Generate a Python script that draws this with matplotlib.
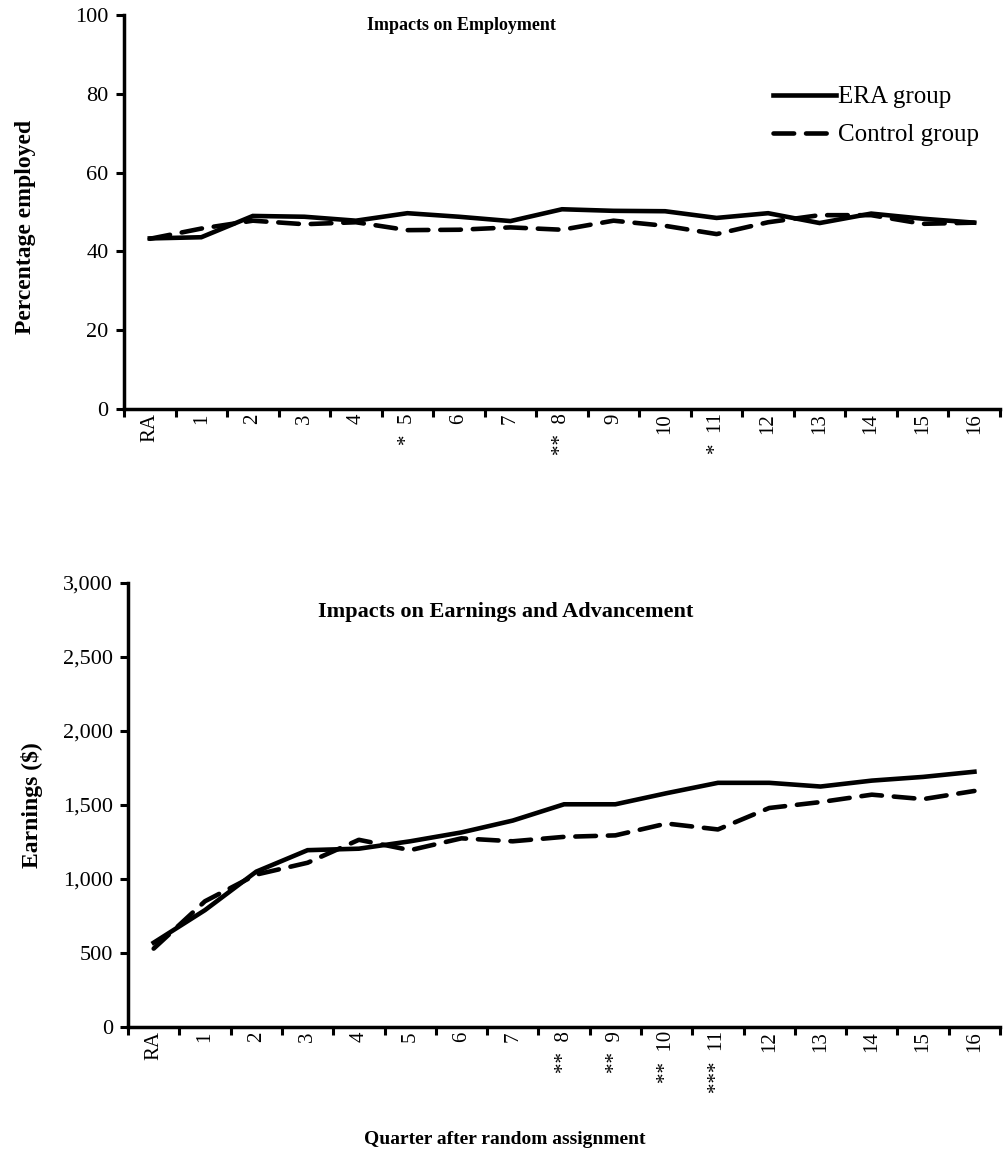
import numpy as np
import matplotlib
matplotlib.use("Agg")
import matplotlib.pyplot as plt
from matplotlib.ticker import FuncFormatter

plt.rcParams['font.family'] = ['Liberation Serif', 'DejaVu Serif']

quarters = ["RA"] + [str(i) for i in range(1, 17)]
emp_stars = {5: "*", 8: "**", 11: "*"}
earn_stars = {8: "**", 9: "**", 10: "**", 11: "***"}

# percentage employed
emp_era = [43.3, 43.6, 49.0, 48.8, 47.8, 49.7, 48.8, 47.7, 50.7, 50.3, 50.2, 48.5, 49.7, 47.2, 49.6, 48.3, 47.3]
emp_ctrl = [43.2, 45.8, 47.8, 46.9, 47.4, 45.4, 45.5, 46.1, 45.5, 47.8, 46.5, 44.4, 47.4, 49.2, 49.2, 47.0, 47.3]

# earnings ($)
earn_era = [570, 790, 1050, 1195, 1205, 1255, 1315, 1395, 1505, 1505, 1580, 1650, 1650, 1625, 1665, 1690, 1725]
earn_ctrl = [530, 850, 1030, 1110, 1265, 1195, 1275, 1255, 1285, 1295, 1375, 1335, 1480, 1520, 1570, 1540, 1595]


def make_labels(stars):
    out = []
    for i, q in enumerate(quarters):
        if i in stars:
            out.append(stars[i] + "  " + q)
        else:
            out.append(q)
    return out


def setup(ax, ymax, ystep, labels, fmt=None):
    x = np.arange(len(quarters))
    ax.set_xlim(-0.5, len(quarters) - 0.5)
    ax.set_ylim(0, ymax)
    ax.set_yticks(np.arange(0, ymax + 1, ystep))
    if fmt:
        ax.yaxis.set_major_formatter(FuncFormatter(fmt))
    ax.set_xticks(x)
    ax.set_xticklabels(labels, rotation=90, fontsize=15)
    ax.set_xticks(np.arange(-0.5, len(quarters)), minor=True)
    ax.tick_params(axis='x', which='major', length=0, pad=3)
    ax.tick_params(axis='x', which='minor', length=6, width=2.2, direction='out')
    ax.tick_params(axis='y', length=6, width=2.2, direction='out', labelsize=16, pad=5)
    for s in ['top', 'right']:
        ax.spines[s].set_visible(False)
    for s in ['left', 'bottom']:
        ax.spines[s].set_linewidth(2.5)


fig = plt.figure(figsize=(10.05, 11.63), dpi=100)
ax1 = fig.add_axes([0.1234, 0.6483, 0.8716, 0.3388])
ax2 = fig.add_axes([0.1274, 0.1169, 0.8677, 0.3818])

x = np.arange(len(quarters))
for ax, era, ctrl in [(ax1, emp_era, emp_ctrl), (ax2, earn_era, earn_ctrl)]:
    ax.plot(x, era, color='black', lw=3.3, solid_joinstyle='miter', label='ERA group')
    ax.plot(x, ctrl, color='black', lw=3.3, dashes=(4.5, 2.6), dash_capstyle='round',
            label='Control group')

setup(ax1, 100, 20, make_labels(emp_stars))
setup(ax2, 3000, 500, make_labels(earn_stars), fmt=lambda v, p: f"{int(v):,}")

ax1.legend(loc='upper left', bbox_to_anchor=(0.741, 0.82), frameon=False, fontsize=18,
           handlelength=2.5, handletextpad=0.1, labelspacing=0.62, borderpad=0,
           borderaxespad=0)

ax1.set_ylabel("Percentage employed", fontsize=17, fontweight='bold')
ax1.yaxis.set_label_coords(-0.101, 0.462)
ax2.set_ylabel("Earnings ($)", fontsize=17, fontweight='bold', labelpad=14)

fig.text(461 / 1005, 1 - 25 / 1163, "Impacts on Employment", ha='center', va='center',
         fontsize=13, fontweight='bold')
fig.text(506 / 1005, 1 - 612 / 1163, "Impacts on Earnings and Advancement", ha='center',
         va='center', fontsize=16, fontweight='bold')
fig.text(505 / 1005, 1 - 1140 / 1163, "Quarter after random assignment", ha='center',
         va='center', fontsize=14, fontweight='bold')

fig.savefig("out.png", dpi=100)
